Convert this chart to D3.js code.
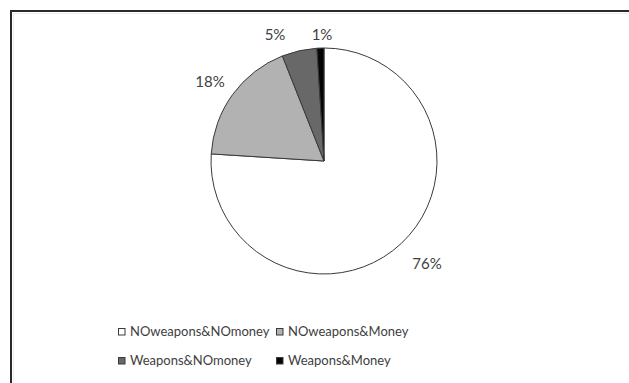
<!DOCTYPE html>
<html><head><meta charset="utf-8">
<script src="https://cdn.jsdelivr.net/npm/d3@7"></script>
<style>html,body{margin:0;padding:0;background:#fff;}svg{display:block;}</style>
</head><body>
<svg id="chart" width="629" height="383"></svg>
<script>
const categories = ["NOweapons&NOmoney", "NOweapons&Money", "Weapons&NOmoney", "Weapons&Money"];
const values = [76, 18, 5, 1];
const labels = ["76%", "18%", "5%", "1%"];
const colors = ["#ffffff", "#b2b2b2", "#686868", "#050505"];

const svg = d3.select("#chart");
const W = 629, H = 383;
const font = "Lato, 'Open Sans', sans-serif";

// outer frame (extends beyond the visible area right and bottom)
svg.append("rect").attr("x", 11).attr("y", 11).attr("width", W + 20).attr("height", H + 20)
  .attr("fill", "#fff").attr("stroke", "#2a2a2a").attr("stroke-width", 2);
svg.append("rect").attr("x", 13.5).attr("y", 13.5).attr("width", W + 20).attr("height", H + 20)
  .attr("fill", "none").attr("stroke", "#eeeeee").attr("stroke-width", 1);

const cx = 324, cy = 161, r = 113;
const pie = d3.pie().sort(null).value(d => d)(values);
const arc = d3.arc().innerRadius(0).outerRadius(r);
const g = svg.append("g").attr("transform", `translate(${cx},${cy})`);
g.selectAll("path").data(pie).join("path")
  .attr("d", arc)
  .attr("fill", (d, i) => colors[i])
  .attr("stroke", "#3a3a3a").attr("stroke-width", 1);

// labels outside (baseline positions relative to centre)
const labelPos = [
  [103, 108],  // 76%
  [-114, -74], // 18%
  [-49, -121], // 5%
  [-2, -121]   // 1%
];
g.selectAll("text.pct").data(pie).join("text").attr("class", "pct")
  .attr("x", (d, i) => labelPos[i][0]).attr("y", (d, i) => labelPos[i][1])
  .attr("text-anchor", "middle")
  .attr("font-family", font).attr("font-size", 15).attr("fill", "#404040")
  .text((d, i) => labels[i]);

// legend
const legendItems = [
  {x: 118, y: 336}, {x: 276, y: 336}, {x: 118, y: 365}, {x: 276, y: 365}
];
const lg = svg.append("g");
categories.forEach((c, i) => {
  const p = legendItems[i];
  lg.append("rect").attr("x", p.x + 0.5).attr("y", p.y - 7.5).attr("width", 6.5).attr("height", 6.5)
    .attr("fill", colors[i]).attr("stroke", "#3a3a3a").attr("stroke-width", 1);
  lg.append("text").attr("x", p.x + 12).attr("y", p.y)
    .attr("font-family", font).attr("font-size", 13).attr("fill", "#404040")
    .text(c);
});
</script>
</body></html>
